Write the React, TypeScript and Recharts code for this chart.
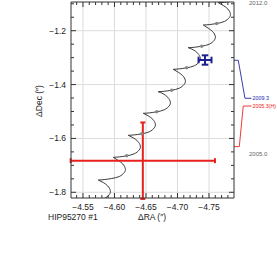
import {
    ComposedChart,
    Customized,
    ErrorBar,
    Line,
    ReferenceDot,
    ReferenceLine,
    Scatter,
    XAxis,
    YAxis,
} from 'recharts';

const FONT = '"Liberation Sans", Arial, sans-serif';
const AX = '#333';
const RED = '#e8201e';
const BLUE = '#1e1e90';

// axis ticks (minor every 0.01 / 0.05, labels on majors)
const xTicks = [-4.54, -4.55, -4.56, -4.57, -4.58, -4.59, -4.6, -4.61, -4.62, -4.63, -4.64, -4.65, -4.66,
    -4.67, -4.68, -4.69, -4.7, -4.71, -4.72, -4.73, -4.74, -4.75, -4.76, -4.77, -4.78];
const xMajor = [-4.55, -4.6, -4.65, -4.7, -4.75];
const yTicks = [-1.1, -1.15, -1.2, -1.25, -1.3, -1.35, -1.4, -1.45, -1.5, -1.55, -1.6, -1.65, -1.7, -1.75, -1.8];
const yMajor = [-1.2, -1.4, -1.6, -1.8];
const yearTicks = [2005, 2012];

// predicted path, one loop per year (cusp -> cusp)
const arch0 = [[-4.5505, -1.8361], [-4.5600, -1.8346], [-4.5718, -1.8305], [-4.5838, -1.8231], [-4.5918, -1.8083],
    [-4.5934, -1.7934], [-4.5894, -1.7767], [-4.5822, -1.7637], [-4.5743, -1.7544]];
const arch1 = [[-4.5743, -1.7544], [-4.5838, -1.7529], [-4.5956, -1.7488], [-4.6076, -1.7414], [-4.6156, -1.7266],
    [-4.6172, -1.7117], [-4.6132, -1.6950], [-4.6060, -1.6820], [-4.5981, -1.6701]];
const arch2 = [[-4.5981, -1.6701], [-4.6076, -1.6686], [-4.6194, -1.6645], [-4.6314, -1.6571], [-4.6394, -1.6423],
    [-4.6410, -1.6274], [-4.6370, -1.6107], [-4.6298, -1.5977], [-4.6219, -1.5884]];
const arch3 = [[-4.6219, -1.5884], [-4.6314, -1.5869], [-4.6432, -1.5828], [-4.6552, -1.5754], [-4.6632, -1.5606],
    [-4.6648, -1.5457], [-4.6608, -1.5290], [-4.6536, -1.5160], [-4.6457, -1.5067]];
const arch4 = [[-4.6457, -1.5067], [-4.6552, -1.5052], [-4.6670, -1.5011], [-4.6790, -1.4937], [-4.6870, -1.4789],
    [-4.6886, -1.4640], [-4.6846, -1.4473], [-4.6774, -1.4343], [-4.6695, -1.4265]];
const arch5 = [[-4.6695, -1.4265], [-4.6790, -1.4250], [-4.6908, -1.4209], [-4.7028, -1.4135], [-4.7108, -1.3987],
    [-4.7124, -1.3838], [-4.7084, -1.3671], [-4.7012, -1.3541], [-4.6933, -1.3433]];
const arch6 = [[-4.6933, -1.3433], [-4.7028, -1.3418], [-4.7146, -1.3377], [-4.7266, -1.3303], [-4.7346, -1.3155],
    [-4.7362, -1.3006], [-4.7322, -1.2839], [-4.7250, -1.2709], [-4.7171, -1.2631]];
const arch7 = [[-4.7171, -1.2631], [-4.7266, -1.2616], [-4.7384, -1.2575], [-4.7504, -1.2501], [-4.7584, -1.2353],
    [-4.7600, -1.2204], [-4.7560, -1.2037], [-4.7488, -1.1907], [-4.7410, -1.1788]];
const arch8 = [[-4.7410, -1.1788], [-4.7505, -1.1773], [-4.7623, -1.1732], [-4.7743, -1.1658], [-4.7823, -1.1510],
    [-4.7839, -1.1361], [-4.7799, -1.1194], [-4.7727, -1.1064], [-4.7648, -1.0960]];
const arch9 = [[-4.7648, -1.0960], [-4.7743, -1.0945], [-4.7861, -1.0904]];

// yearly epoch markers
const epochX = [-4.6194, -4.6432, -4.6670, -4.6908, -4.7146, -4.7384, -4.7623];
const epochY = [-1.6645, -1.5828, -1.5011, -1.4209, -1.3377, -1.2575, -1.1732];

// measurements
const hipp = [{x: -4.645, y: -1.6827, ex: 0.1145, ey: 0.142}];
const obs2009 = [{x: -4.7437, y: -1.3088, ex: 0.0103, ey: 0.0174}];

const toPts = (a: number[][]) => a.map(([x, y]) => ({x, y}));
const arches = [arch0, arch1, arch2, arch3, arch4, arch5, arch6, arch7, arch8, arch9].map(toPts);
const epochs = epochX.map((x, i) => ({x, y: epochY[i]}));

const isMajor = (v: number, list: number[]) => list.some(m => Math.abs(m - v) < 1e-6);

const BottomTick = (p: any) => {
    const v = p.payload.value;
    const major = isMajor(v, xMajor);
    const ay = p.y - 6;
    return (
        <g>
            <line x1={p.x} x2={p.x} y1={ay} y2={ay - (major ? 5 : 3)} stroke={AX}/>
            {major && (
                <text x={p.x} y={p.y} dy="0.71em" textAnchor="middle" fontSize={8.5} fontFamily={FONT} fill="#222">
                    {'\u2212' + Math.abs(v).toFixed(2)}
                </text>
            )}
        </g>
    );
};

const TopTick = (p: any) => {
    const major = isMajor(p.payload.value, xMajor);
    return <line x1={p.x} x2={p.x} y1={p.y} y2={p.y + (major ? 5 : 3)} stroke={AX}/>;
};

const LeftTick = (p: any) => {
    const v = p.payload.value;
    const major = isMajor(v, yMajor);
    const ax = p.x + 5;
    return (
        <g>
            <line x1={ax} x2={ax + (major ? 5 : 3)} y1={p.y} y2={p.y} stroke={AX}/>
            {major && (
                <text x={p.x} y={p.y} dy="0.35em" textAnchor="end" fontSize={8.5} fontFamily={FONT} fill="#222">
                    {'\u2212' + Math.abs(v).toFixed(1)}
                </text>
            )}
        </g>
    );
};

const RightTick = (p: any) => {
    const major = isMajor(p.payload.value, yMajor);
    return <line x1={p.x} x2={p.x - (major ? 5 : 3)} y1={p.y} y2={p.y} stroke={AX}/>;
};

const YearTick = (p: any) => (
    <text x={p.x} y={p.y} dy="0.5em" textAnchor="start" fontSize={6} fontFamily={FONT} fill="#666">
        {p.payload.value.toFixed(1)}
    </text>
);

const Annotations = () => (
    <g fontFamily={FONT} fontSize={8.5} fill="#222">
        <text transform="translate(41.5,101) rotate(-90)" textAnchor="middle">ΔDec (″)</text>
        <text x={152} y={220} textAnchor="middle">ΔRA (″)</text>
        <text x={48} y={220}>HIP95270 #1</text>
    </g>
);

const noShape = () => <g/>;

export default function App() {
    return (
        <div style={{position: 'absolute', left: 0, top: 0, background: '#fff'}}>
            <ComposedChart width={277} height={262} margin={{top: 2, right: 3, bottom: 34, left: 11}}>
                <XAxis xAxisId="ra" dataKey="x" type="number" reversed domain={[-4.7897, -4.531]} allowDataOverflow
                       ticks={xTicks} interval={0} height={30} tickLine={false} tickSize={4} tickMargin={2}
                       axisLine={{stroke: AX}} tick={BottomTick}/>
                <XAxis xAxisId="raT" dataKey="x" type="number" orientation="top" mirror reversed
                       domain={[-4.7897, -4.531]} allowDataOverflow ticks={xTicks} interval={0} tickLine={false}
                       tickSize={0} tickMargin={0} axisLine={{stroke: AX}} tick={TopTick}/>
                <YAxis yAxisId="dec" dataKey="y" type="number" domain={[-1.8212, -1.0934]} allowDataOverflow
                       ticks={yTicks} interval={0} width={60} tickLine={false} tickSize={3} tickMargin={2}
                       axisLine={{stroke: AX}} tick={LeftTick}/>
                <YAxis yAxisId="decR" dataKey="y" type="number" orientation="right" mirror
                       domain={[-1.8212, -1.0934]} allowDataOverflow ticks={yTicks} interval={0} tickLine={false}
                       tickSize={0} tickMargin={0} axisLine={{stroke: AX}} tick={RightTick}/>
                <YAxis yAxisId="yr" type="number" orientation="right" domain={[2002.92, 2012]} allowDataOverflow
                       ticks={yearTicks} interval={0} width={40} tickLine={false} axisLine={false} tickSize={0}
                       tickMargin={15} tick={YearTick}/>

                {xMajor.map(v => (
                    <ReferenceLine key={'gx' + v} x={v} xAxisId="ra" yAxisId="dec" stroke="#dcdcdc" ifOverflow="visible"/>
                ))}
                {yMajor.map(v => (
                    <ReferenceLine key={'gy' + v} y={v} xAxisId="ra" yAxisId="dec" stroke="#dcdcdc" ifOverflow="visible"/>
                ))}

                {arches.map((a, i) => (
                    <Line key={'arch' + i} data={a} dataKey="y" xAxisId="ra" yAxisId="dec" type="natural"
                          stroke="#3a3a3a" strokeWidth={1} dot={false} activeDot={false} isAnimationActive={false}/>
                ))}
                <Scatter data={epochs} xAxisId="ra" yAxisId="dec" isAnimationActive={false}
                         shape={(p: any) => <circle cx={p.cx} cy={p.cy} r={1.7} fill="#888"/>}/>

                <Scatter data={hipp} xAxisId="ra" yAxisId="dec" isAnimationActive={false} shape={noShape}>
                    <ErrorBar dataKey="ex" direction="x" width={2.5} stroke={RED} strokeWidth={2} isAnimationActive={false}/>
                    <ErrorBar dataKey="ey" direction="y" width={2.5} stroke={RED} strokeWidth={2} isAnimationActive={false}/>
                </Scatter>
                <Scatter data={obs2009} xAxisId="ra" yAxisId="dec" isAnimationActive={false} shape={noShape}>
                    <ErrorBar dataKey="ex" direction="x" width={3.3} stroke={BLUE} strokeWidth={2} isAnimationActive={false}/>
                    <ErrorBar dataKey="ey" direction="y" width={3.3} stroke={BLUE} strokeWidth={2} isAnimationActive={false}/>
                </Scatter>

                {/* epoch connectors to the time scale on the right */}
                <ReferenceLine xAxisId="ra" yAxisId="yr" ifOverflow="visible" stroke="#3c3cb0"
                               segment={[{x: -4.7897, y: 2009.3}, {x: -4.7965, y: 2009.3}]}/>
                <ReferenceLine xAxisId="ra" yAxisId="yr" ifOverflow="visible" stroke="#3c3cb0"
                               segment={[{x: -4.7965, y: 2009.3}, {x: -4.8071, y: 2007.54}]}/>
                <ReferenceLine xAxisId="ra" yAxisId="yr" ifOverflow="visible" stroke="#3c3cb0"
                               segment={[{x: -4.8071, y: 2007.54}, {x: -4.8167, y: 2007.54}]}/>
                <ReferenceLine xAxisId="ra" yAxisId="yr" ifOverflow="visible" stroke="#f03a3a"
                               segment={[{x: -4.7897, y: 2005.3}, {x: -4.7981, y: 2005.3}]}/>
                <ReferenceLine xAxisId="ra" yAxisId="yr" ifOverflow="visible" stroke="#f03a3a"
                               segment={[{x: -4.7981, y: 2005.3}, {x: -4.8044, y: 2007.18}]}/>
                <ReferenceLine xAxisId="ra" yAxisId="yr" ifOverflow="visible" stroke="#f03a3a"
                               segment={[{x: -4.8044, y: 2007.18}, {x: -4.8167, y: 2007.18}]}/>
                <ReferenceDot xAxisId="ra" yAxisId="yr" x={-4.8167} y={2007.54} r={0.5} fill="#3c3cb0" stroke="none"
                              ifOverflow="visible"
                              label={{value: '2009.3', position: 'right', offset: 1, fill: '#1e1eb4', fontSize: 5.4,
                                  fontFamily: FONT}}/>
                <ReferenceDot xAxisId="ra" yAxisId="yr" x={-4.8167} y={2007.18} r={0.5} fill="#f03a3a" stroke="none"
                              ifOverflow="visible"
                              label={{value: '2005.3(H)', position: 'right', offset: 1, fill: '#ee2020', fontSize: 5.3,
                                  fontFamily: FONT}}/>

                <Customized component={Annotations}/>
            </ComposedChart>
        </div>
    );
}
